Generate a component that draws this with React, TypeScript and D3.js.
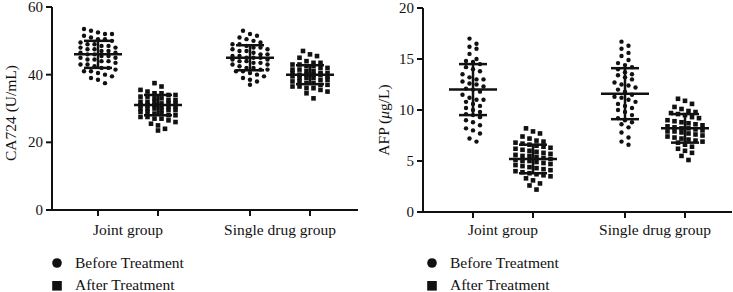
import React, { useMemo } from "react";
import * as d3 from "d3";

const groups = ["Joint group", "Single drug group"];
const phases = ["Before Treatment", "After Treatment"];

// CA724 (U/mL)
const ca724JointBefore = [53.5, 53, 52.5, 52, 52, 51.5, 51, 50.5, 50.5, 50, 49.5, 49, 49, 48.5, 48, 48, 47.5, 47, 47, 46.5, 46.5, 46, 46, 45.5, 45.5, 45, 45, 44.5, 44, 44, 43.5, 43, 43, 42.5, 42, 42, 41.5, 41, 41, 40.5, 40, 39.5, 39, 38.5, 37.5, 48.5, 44.5, 47.5];
const ca724JointAfter = [37.5, 36.5, 35.5, 35, 34.5, 34.5, 34, 34, 33.5, 33.5, 33, 33, 32.5, 32.5, 32, 32, 31.5, 31.5, 31.5, 31, 31, 31, 30.5, 30.5, 30.5, 30, 30, 30, 29.5, 29.5, 29, 29, 28.5, 28.5, 28, 28, 27.5, 27.5, 27, 27, 26.5, 26, 25.5, 25, 24, 23.5, 32, 29.5];
const ca724SingleBefore = [53, 52, 51.5, 51, 50.5, 50, 49.5, 49, 49, 48.5, 48, 48, 47.5, 47, 47, 46.5, 46, 46, 45.5, 45.5, 45, 45, 44.5, 44.5, 44, 44, 43.5, 43, 43, 42.5, 42, 42, 41.5, 41.5, 41, 41, 40.5, 40, 39.5, 39, 38.5, 38, 37, 45, 47.5, 43.5];
const ca724SingleAfter = [47, 46, 45.5, 45, 44, 43.5, 43.5, 43, 43, 42.5, 42.5, 42, 42, 41.5, 41.5, 41, 41, 40.5, 40.5, 40.5, 40, 40, 40, 39.5, 39.5, 39, 39, 38.5, 38.5, 38, 38, 37.5, 37.5, 37, 37, 36.5, 36.5, 36, 36, 35.5, 35, 34.5, 33, 40, 39];
const ca724Means = [46, 31, 45, 40];
const ca724Sds = [4, 3, 3.7, 2.8];
const ca724Ticks = [0, 20, 40, 60];

// AFP (μg/L)
const afpJointBefore = [17, 16.5, 16.2, 16, 15.5, 15, 14.8, 14.7, 14.5, 14.2, 14, 13.8, 13.5, 13.2, 13, 12.8, 12.5, 12.3, 12.1, 12, 11.8, 11.5, 11.2, 11, 10.8, 10.6, 10.4, 10.2, 10, 9.8, 9.6, 9.5, 9.3, 9, 8.8, 8.5, 8.2, 8, 7.7, 7.2, 6.9, 13, 11, 12.6];
const afpJointAfter = [8.2, 7.9, 7.7, 7.4, 7.2, 7, 6.9, 6.8, 6.7, 6.5, 6.4, 6.3, 6.2, 6.1, 6, 5.9, 5.8, 5.7, 5.6, 5.5, 5.4, 5.3, 5.2, 5.1, 5, 4.9, 4.8, 4.7, 4.6, 4.5, 4.4, 4.3, 4.2, 4.1, 4, 3.9, 3.8, 3.7, 3.6, 3.5, 3.3, 3.1, 2.8, 2.6, 2.2, 5.5, 5, 6.6];
const afpSingleBefore = [16.7, 16.3, 16, 15.6, 15.3, 14.9, 14.6, 14.4, 14.2, 14, 13.7, 13.4, 13.2, 13, 12.7, 12.4, 12.2, 12, 11.8, 11.5, 11.2, 11, 10.8, 10.6, 10.4, 10.2, 10, 9.8, 9.5, 9.2, 9, 8.8, 8.6, 8.3, 7.8, 7.3, 6.9, 6.6, 12.5, 11.3, 13.5];
const afpSingleAfter = [11.1, 10.9, 10.6, 10.3, 10.1, 9.9, 9.8, 9.7, 9.6, 9.5, 9.3, 9.2, 9, 8.9, 8.8, 8.7, 8.5, 8.4, 8.3, 8.2, 8.1, 8, 7.9, 7.8, 7.7, 7.6, 7.5, 7.4, 7.3, 7.2, 7.1, 7, 6.9, 6.8, 6.6, 6.4, 6.2, 6, 5.8, 5.5, 5.1, 8.2, 8.6, 7.9];
const afpMeans = [12, 5.2, 11.6, 8.2];
const afpSds = [2.5, 1.4, 2.5, 1.4];
const afpTicks = [0, 5, 10, 15, 20];

const FONT = "'Liberation Serif', 'DejaVu Serif', serif";
const INK = "#111";

type PanelProps = {
  axisX: number;
  axisEnd: number;
  bandStart: number;
  bandEnd: number;
  yTop: number;
  yBottom: number;
  domainMax: number;
  ticks: number[];
  series: number[][];
  means: number[];
  sds: number[];
  label: React.ReactNode;
  labelX: number;
  labelY: number;
  legendX: number;
};

function swarm(values: number[], y: (v: number) => number) {
  const pts = values.map((v) => ({ v, py: y(v), dx: 0 }));
  pts.sort((a, b) => a.py - b.py);
  const binH = 5.5;
  const step = 7;
  const maxRow = 6;
  let i = 0;
  while (i < pts.length) {
    const start = pts[i].py;
    let j = i;
    while (j < pts.length && j - i < maxRow && pts[j].py - start < binH) j++;
    const n = j - i;
    for (let k = 0; k < n; k++) pts[i + k].dx = (k - (n - 1) / 2) * step;
    i = j;
  }
  return pts;
}

function Panel(p: PanelProps) {
  const y = d3.scaleLinear().domain([0, p.domainMax]).range([p.yBottom, p.yTop]);
  const xg = d3.scaleBand<string>().domain(groups).range([p.bandStart, p.bandEnd]);
  const xs = d3.scalePoint<string>().domain(phases).range([-30, 30]);
  const cx = (gi: number, pi: number) => (xg(groups[gi]) as number) + xg.bandwidth() / 2 + (xs(phases[pi]) as number);

  return (
    <g>
      <line x1={p.axisX} x2={p.axisX} y1={p.yTop} y2={p.yBottom + 1} stroke={INK} strokeWidth={2} />
      <line x1={p.axisX - 1} x2={p.axisEnd} y1={p.yBottom} y2={p.yBottom} stroke={INK} strokeWidth={2} />
      {p.ticks.map((t) => (
        <g key={t}>
          <line x1={p.axisX - 6} x2={p.axisX} y1={y(t)} y2={y(t)} stroke={INK} strokeWidth={2} />
          <text x={p.axisX - 9} y={y(t)} dy="0.33em" textAnchor="end" fontFamily={FONT} fontSize={15} fill={INK}>
            {t}
          </text>
        </g>
      ))}
      {groups.map((g, gi) =>
        phases.map((ph, pi) => (
          <line key={g + ph} x1={cx(gi, pi)} x2={cx(gi, pi)} y1={p.yBottom} y2={p.yBottom + 6} stroke={INK} strokeWidth={2} />
        ))
      )}
      {groups.map((g) => (
        <text key={g} x={(xg(g) as number) + xg.bandwidth() / 2} y={235} textAnchor="middle" fontFamily={FONT} fontSize={15.5} fill={INK}>
          {g}
        </text>
      ))}
      <text
        transform={`translate(${p.labelX},${p.labelY}) rotate(-90)`}
        textAnchor="middle"
        dy="0.35em"
        fontFamily={FONT}
        fontSize={15.5}
        fill={INK}
      >
        {p.label}
      </text>
      {p.series.map((vals, si) => {
        const gi = Math.floor(si / 2);
        const pi = si % 2;
        const c = cx(gi, pi);
        const pts = swarm(vals, y);
        return (
          <g key={si}>
            {pts.map((pt, k) =>
              pi === 0 ? (
                <circle key={k} cx={c + pt.dx} cy={pt.py} r={2.2} fill={INK} />
              ) : (
                <rect key={k} x={c + pt.dx - 2.3} y={pt.py - 2.3} width={4.6} height={4.6} fill={INK} />
              )
            )}
          </g>
        );
      })}
      {p.means.map((m, si) => {
        const gi = Math.floor(si / 2);
        const pi = si % 2;
        const c = cx(gi, pi);
        const hi = y(m + p.sds[si]);
        const lo = y(m - p.sds[si]);
        return (
          <g key={si} stroke={INK} strokeWidth={2.5}>
            <line x1={c - 24} x2={c + 24} y1={y(m)} y2={y(m)} />
            <line x1={c} x2={c} y1={hi} y2={lo} />
            <line x1={c - 14} x2={c + 14} y1={hi} y2={hi} />
            <line x1={c - 14} x2={c + 14} y1={lo} y2={lo} />
          </g>
        );
      })}
      <circle cx={p.legendX} cy={263} r={4.8} fill={INK} />
      <text x={p.legendX + 18} y={268} fontFamily={FONT} fontSize={15.5} fill={INK}>
        {phases[0]}
      </text>
      <rect x={p.legendX - 4.8} y={281} width={9.6} height={9.6} fill={INK} />
      <text x={p.legendX + 18} y={290} fontFamily={FONT} fontSize={15.5} fill={INK}>
        {phases[1]}
      </text>
    </g>
  );
}

export default function App() {
  const left = useMemo(() => [ca724JointBefore, ca724JointAfter, ca724SingleBefore, ca724SingleAfter], []);
  const right = useMemo(() => [afpJointBefore, afpJointAfter, afpSingleBefore, afpSingleAfter], []);
  return (
    <svg width={733} height={292} style={{ position: "absolute", left: 0, top: 0, background: "#fff" }}>
      <Panel
        axisX={52}
        axisEnd={358}
        bandStart={52}
        bandEnd={356}
        yTop={7}
        yBottom={210}
        domainMax={60}
        ticks={ca724Ticks}
        series={left}
        means={ca724Means}
        sds={ca724Sds}
        label="CA724 (U/mL)"
        labelX={11}
        labelY={113}
        legendX={57}
      />
      <Panel
        axisX={423}
        axisEnd={732}
        bandStart={427}
        bandEnd={731}
        yTop={8}
        yBottom={212}
        domainMax={20}
        ticks={afpTicks}
        series={right}
        means={afpMeans}
        sds={afpSds}
        label={
          <>
            AFP (<tspan fontStyle="italic">μ</tspan>g/L)
          </>
        }
        labelX={384}
        labelY={120}
        legendX={432}
      />
    </svg>
  );
}
